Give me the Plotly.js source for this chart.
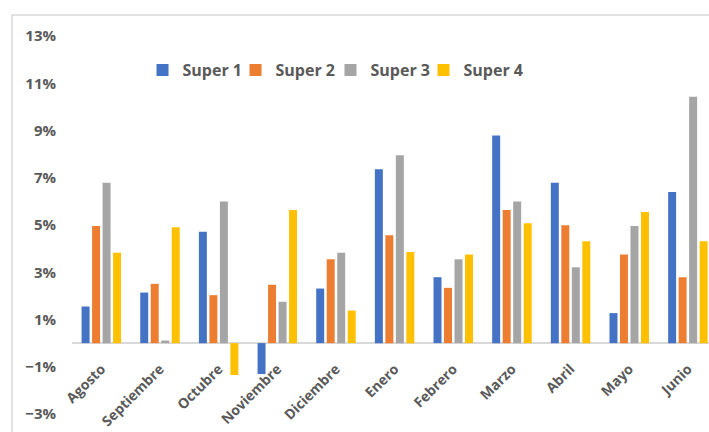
<!DOCTYPE html>
<html>
<head>
<meta charset="utf-8">
<script src="https://cdn.plot.ly/plotly-3.0.1.min.js"></script>
<style>
  html, body { margin: 0; padding: 0; background: #ffffff; }
  #chart { width: 709px; height: 432px; }
</style>
</head>
<body>
<div id="chart"></div>
<script>
// Monthly variation per supermarket
const months = ["Agosto", "Septiembre", "Octubre", "Noviembre", "Diciembre", "Enero",
                "Febrero", "Marzo", "Abril", "Mayo", "Junio"];
const seriesNames = ["Super 1", "Super 2", "Super 3", "Super 4"];
const super1 = [0.0155, 0.0214, 0.0471, -0.0131, 0.0231, 0.0736, 0.0279, 0.0879, 0.0679, 0.0127, 0.0640];
const super2 = [0.0496, 0.0251, 0.0203, 0.0247, 0.0355, 0.0457, 0.0234, 0.0564, 0.0499, 0.0375, 0.0279];
const super3 = [0.0679, 0.0011, 0.0599, 0.0175, 0.0383, 0.0795, 0.0355, 0.0599, 0.0321, 0.0496, 0.1043];
const super4 = [0.0383, 0.0490, -0.0135, 0.0564, 0.0138, 0.0386, 0.0375, 0.0507, 0.0431, 0.0555, 0.0431];
const yTicks = [-0.03, -0.01, 0.01, 0.03, 0.05, 0.07, 0.09, 0.11, 0.13];

const colors = ["#4472C4", "#ED7D31", "#A5A5A5", "#FFC000"];
const allSeries = [super1, super2, super3, super4];
const textColor = "#595959";
const fontFamily = "'Open Sans', 'Noto Sans', sans-serif";

// one legend box per series so the entries sit in a single evenly spaced row
const legendIds = ["legend", "legend2", "legend3", "legend4"];
const legendX = [0.1107, 0.2567, 0.4058, 0.5518];

const traces = allSeries.map((vals, i) => ({
  type: "bar",
  name: seriesNames[i],
  x: months,
  y: vals,
  legend: legendIds[i],
  marker: { color: colors[i] },
  hoverinfo: "x+y+name"
}));

const layout = {
  width: 709,
  height: 432,
  paper_bgcolor: "#ffffff",
  plot_bgcolor: "rgba(0,0,0,0)",
  margin: { l: 72, r: 0, t: 36, b: 18, pad: 0 },
  barmode: "group",
  bargap: 0.284,
  bargroupgap: 0.24,
  font: { family: fontFamily, color: textColor, size: 14, weight: "bold" },
  showlegend: true,
  xaxis: {
    type: "category",
    range: [-0.5, 10.36],
    anchor: "free",
    position: 0.1875,
    showline: false,
    showgrid: false,
    zeroline: false,
    ticks: "",
    tickangle: -45,
    ticklabelstandoff: 14,
    automargin: false,
    tickfont: { family: fontFamily, size: 14, color: textColor, weight: "bold" }
  },
  yaxis: {
    range: [-0.03, 0.13],
    tickmode: "array",
    tickvals: yTicks,
    tickformat: ".0%",
    showgrid: false,
    showline: false,
    ticks: "",
    zeroline: true,
    zerolinecolor: "#d9d9d9",
    zerolinewidth: 1.5,
    ticklabelstandoff: 15,
    automargin: false,
    tickfont: { family: fontFamily, size: 15, color: textColor, weight: "bold" }
  },
  shapes: [{
    type: "rect",
    xref: "paper",
    yref: "paper",
    x0: (12 - 72) / 637,
    x1: 1.2,
    y0: -0.3,
    y1: (414 - 15) / 378,
    line: { color: "#d9d9d9", width: 1.5 },
    fillcolor: "rgba(0,0,0,0)",
    layer: "below"
  }]
};

legendIds.forEach((id, i) => {
  layout[id] = {
    orientation: "h",
    x: legendX[i],
    xanchor: "left",
    y: 0.91,
    yanchor: "middle",
    bgcolor: "rgba(0,0,0,0)",
    font: { family: fontFamily, size: 16, color: textColor, weight: "bold" }
  };
});

Plotly.newPlot("chart", traces, layout, { displayModeBar: false, staticPlot: true });
</script>
</body>
</html>
